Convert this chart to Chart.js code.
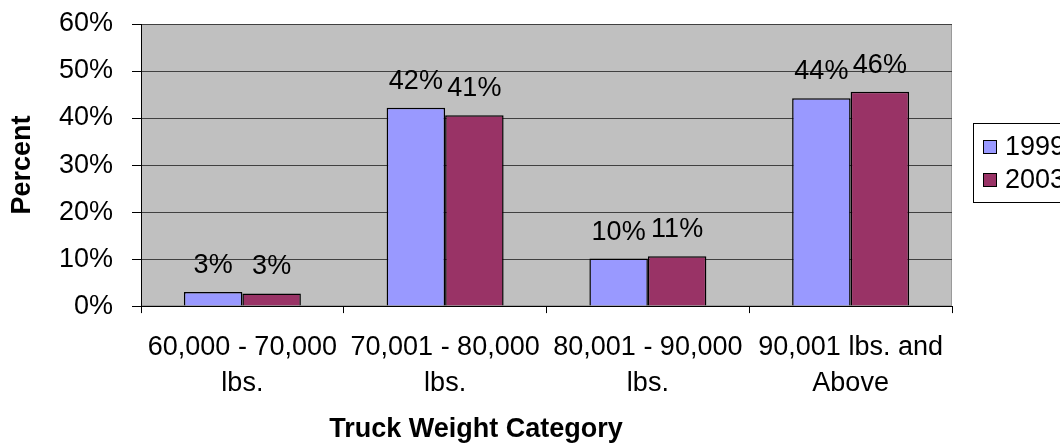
<!DOCTYPE html>
<html>
<head>
<meta charset="utf-8">
<script src="https://cdn.jsdelivr.net/npm/chart.js@4/dist/chart.umd.min.js"></script>
<style>
  html, body { margin: 0; padding: 0; background: #fff; }
  #wrap { width: 1060px; height: 448px; }
</style>
</head>
<body>
<div id="wrap"><canvas id="bar-chart"></canvas></div>
<script>
// data
const categories = [
    ["60,000 - 70,000", "lbs."],
    ["70,001 - 80,000", "lbs."],
    ["80,001 - 90,000", "lbs."],
    ["90,001 lbs. and", "Above"]
];
const values1999 = [3.0, 42.2, 10.1, 44.2];
const values2003 = [2.7, 40.6, 10.6, 45.6];
const yTicks = [0, 10, 20, 30, 40, 50, 60];

const FONT = "'Liberation Sans', Arial, sans-serif";
const FS = 27;

// gray plot background with thin border
const plotBg = {
    id: 'plotBg',
    beforeDraw(chart) {
        const a = chart.chartArea, ctx = chart.ctx;
        ctx.save();
        ctx.fillStyle = '#c0c0c0';
        ctx.fillRect(a.left, a.top, a.right - a.left, a.bottom - a.top);
        ctx.strokeStyle = '#9a9a9a';
        ctx.lineWidth = 1;
        ctx.strokeRect(a.left + 0.5, a.top + 0.5, a.right - a.left - 1, a.bottom - a.top - 1);
        ctx.restore();
    }
};

// value labels above bars
const barLabels = {
    id: 'barLabels',
    afterDatasetsDraw(chart) {
        const ctx = chart.ctx;
        ctx.save();
        ctx.font = FS + 'px ' + FONT;
        ctx.fillStyle = '#000';
        ctx.textAlign = 'center';
        ctx.textBaseline = 'alphabetic';
        chart.data.datasets.forEach((ds, i) => {
            chart.getDatasetMeta(i).data.forEach((bar, j) => {
                ctx.fillText(Math.round(ds.data[j]) + '%', bar.x, bar.y - 19);
            });
        });
        ctx.restore();
    }
};

// boxed legend at the right, cut by the window edge
const boxLegend = {
    id: 'boxLegend',
    afterDraw(chart) {
        const ctx = chart.ctx;
        const x = 973, y = 123, h = 79;
        ctx.save();
        ctx.strokeStyle = '#000';
        ctx.lineWidth = 1;
        ctx.strokeRect(x + 0.5, y + 0.5, 200, h);
        ctx.font = FS + 'px ' + FONT;
        ctx.textBaseline = 'middle';
        chart.data.datasets.forEach((ds, i) => {
            const cy = y + 24 + i * 33;
            ctx.fillStyle = ds.backgroundColor;
            ctx.fillRect(x + 10, cy - 7, 14, 14);
            ctx.strokeRect(x + 10.5, cy - 6.5, 13, 13);
            ctx.fillStyle = '#000';
            ctx.fillText(ds.label, x + 32, cy + 1);
        });
        ctx.restore();
    }
};

const chart = new Chart(document.getElementById("bar-chart"), {
    type: 'bar',
    data: {
        labels: categories,
        datasets: [{
            label: "1999",
            data: values1999,
            backgroundColor: "#9999ff",
            borderColor: "#000",
            borderWidth: 1.5,
            categoryPercentage: 0.577,
            barPercentage: 1.0
        }, {
            label: "2003",
            data: values2003,
            backgroundColor: "#993366",
            borderColor: "#000",
            borderWidth: 1.5,
            categoryPercentage: 0.577,
            barPercentage: 1.0
        }]
    },
    options: {
        responsive: true,
        maintainAspectRatio: false,
        animation: false,
        layout: {
            padding: { top: 24, right: 108, left: 0, bottom: 0 }
        },
        plugins: {
            legend: { display: false },
            tooltip: { enabled: false },
            title: {
                display: true,
                position: 'bottom',
                text: 'Truck Weight Category',
                color: '#000',
                font: { family: FONT, size: FS, weight: 'bold', lineHeight: 1.2 },
                padding: { top: 0, bottom: 2 }
            }
        },
        scales: {
            x: {
                afterFit(scale) {
                    scale.height = 107.5;
                    scale.paddingLeft = 0;
                    scale.paddingRight = 0;
                },
                grid: {
                    drawOnChartArea: false,
                    drawTicks: true,
                    tickLength: 7,
                    tickColor: '#000'
                },
                border: { color: '#000', width: 1 },
                ticks: {
                    color: '#000',
                    padding: 16,
                    maxRotation: 0,
                    autoSkip: false,
                    font: { family: FONT, size: FS, lineHeight: 1.35 }
                }
            },
            y: {
                min: 0,
                max: 60,
                afterFit(scale) {
                    scale.width = 141;
                    scale.paddingTop = 0;
                    scale.paddingBottom = 0;
                },
                afterBuildTicks(scale) { scale.ticks = yTicks.map(v => ({ value: v })); },
                grid: {
                    color: '#404040',
                    tickLength: 9,
                    tickColor: '#000'
                },
                border: { color: '#000', width: 1 },
                ticks: {
                    color: '#000',
                    padding: 19,
                    font: { family: FONT, size: FS },
                    callback: v => v + '%'
                },
                title: {
                    display: true,
                    text: 'Percent',
                    color: '#000',
                    font: { family: FONT, size: FS, weight: 'bold', lineHeight: 1.2 },
                    padding: { top: 6, bottom: 0 }
                }
            }
        }
    },
    plugins: [plotBg, barLabels, boxLegend]
});
</script>
</body>
</html>
